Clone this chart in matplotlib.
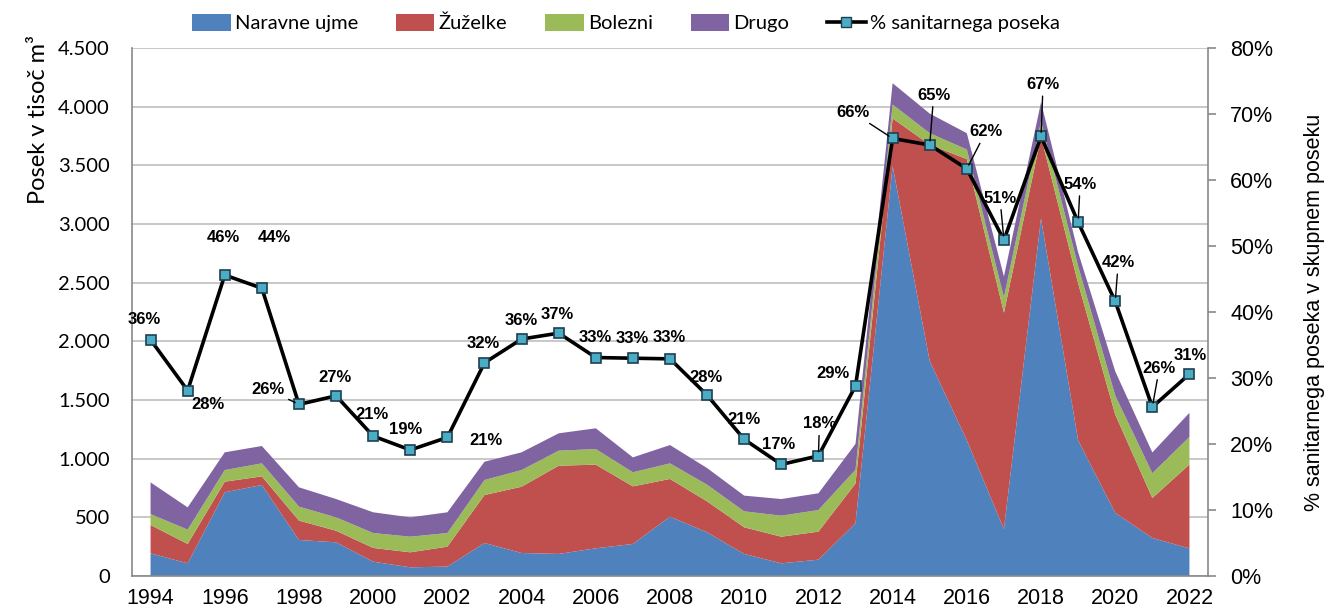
import matplotlib
matplotlib.use("Agg")
import matplotlib.pyplot as plt
from matplotlib.patches import Patch
from matplotlib.lines import Line2D
from matplotlib.ticker import FuncFormatter, MultipleLocator

years = list(range(1994, 2023))
naravne_ujme = [193, 108, 713, 776, 307, 287, 122, 74, 80, 281, 196, 188, 236, 273, 506,
                372, 188, 108, 139, 450, 3494, 1832, 1156, 400, 3047, 1156, 538, 324, 235]
zuzelke = [242, 165, 91, 73, 165, 99, 117, 128, 170, 409, 565, 752, 713, 491, 321,
           264, 227, 227, 239, 338, 406, 1844, 2397, 1844, 697, 1338, 838, 341, 715]
bolezni = [93, 122, 99, 111, 119, 114, 127, 133, 116, 128, 142, 128, 133, 120, 133,
           142, 136, 179, 184, 118, 118, 98, 82, 132, 132, 147, 162, 211, 235]
drugo = [270, 190, 151, 148, 165, 156, 177, 165, 177, 156, 151, 148, 177, 127, 156,
         142, 134, 142, 143, 220, 182, 167, 139, 177, 162, 118, 206, 177, 206]
pct_sanitarni = [35.8, 28.1, 45.6, 43.6, 26.0, 27.3, 21.2, 19.1, 21.0, 32.3, 35.9, 36.8, 33.1,
                 33.0, 32.9, 27.4, 20.7, 16.9, 18.2, 28.8, 66.3, 65.3, 61.7, 50.9, 66.6,
                 53.6, 41.6, 25.6, 30.6]
pct_labels = ["36%", "28%", "46%", "44%", "26%", "27%", "21%", "19%", "21%", "32%", "36%",
              "37%", "33%", "33%", "33%", "28%", "21%", "17%", "18%", "29%", "66%", "65%",
              "62%", "51%", "67%", "54%", "42%", "26%", "31%"]
series_names = ["Naravne ujme", "Žuželke", "Bolezni", "Drugo"]
line_name = "% sanitarnega poseka"

colors = ["#4F81BD", "#C0504D", "#9BBB59", "#8064A2"]

# label offsets in pixels (dx, dy up) and whether a leader line is drawn
label_offsets = [(-6, 20), (20, -14), (-1, 38), (13, 51), (-31, 15), (-1, 18), (-1, 22),
                 (-5, 20), (39, -3), (-1, 19), (0, 19), (-1, 19), (-1, 20), (-1, 20),
                 (-1, 21), (-1, 18), (0, 20), (-3, 20), (1, 32), (-23, 12), (-40, 26),
                 (4, 50), (19, 37), (-4, 42), (2, 52), (2, 38), (3, 39), (7, 39), (1, 19)]
leaders = [False, False, False, False, True, False, False, False, False, False, False,
           False, False, False, False, False, False, False, True, False, True, True, True,
           True, True, True, True, True, False]

fig = plt.figure(figsize=(13.29, 6.14), dpi=100)
ax = fig.add_axes([132 / 1329, 1 - 576 / 614, (1208 - 132) / 1329, (576 - 48) / 614])
ax.stackplot(years, naravne_ujme, zuzelke, bolezni, drugo, colors=colors, linewidth=0)
ax.set_xlim(1993.5, 2022.5)
ax.set_ylim(0, 4500)
ax.yaxis.set_major_locator(MultipleLocator(500))
ax.yaxis.set_major_formatter(FuncFormatter(lambda v, p: f"{int(v):,}".replace(",", ".")))
ax.set_xticks(list(range(1994, 2023, 2)))
ax.grid(axis="y", color="#BFBFBF", linewidth=1.2)
ax.set_axisbelow(True)
for s in ["top", "right"]:
    ax.spines[s].set_visible(False)
for s in ["left", "bottom"]:
    ax.spines[s].set_color("#898989")
    ax.spines[s].set_linewidth(1.2)
ax.tick_params(axis="both", length=0)
ax.tick_params(axis="x", labelsize=15.5, pad=9)
for lbl in ax.get_xticklabels():
    lbl.set_fontfamily("Liberation Sans")
ax.tick_params(axis="y", labelsize=14.5, pad=16)
for lbl in ax.get_yticklabels():
    lbl.set_fontfamily("Lato")
ax.set_ylabel("Posek v tisoč m³", fontsize=17, fontfamily="Lato")
ax.yaxis.set_label_coords(-0.077, 0.865)

ax2 = ax.twinx()
ax2.set_ylim(0, 80)
ax2.yaxis.set_major_locator(MultipleLocator(10))
ax2.yaxis.set_major_formatter(FuncFormatter(lambda v, p: f"{int(round(v))}%"))
for s in ["top", "left", "bottom"]:
    ax2.spines[s].set_visible(False)
ax2.spines["right"].set_color("#898989")
ax2.spines["right"].set_linewidth(1.2)
ax2.tick_params(axis="y", direction="out", length=6, width=1.2, color="#898989",
                labelsize=15.5, pad=10)
for lbl in ax2.get_yticklabels():
    lbl.set_fontfamily("Liberation Sans")
ax2.set_ylabel("% sanitarnega poseka v skupnem poseku", fontsize=15.5,
               fontfamily="Liberation Sans", labelpad=22)
ax2.plot(years, pct_sanitarni, color="black", linewidth=2.6, marker="s", markersize=7,
         markerfacecolor="#4BACC6", markeredgecolor="#1F3F4F", markeredgewidth=1.2, zorder=5)

for x, y, lab, (dx, dy), ld in zip(years, pct_sanitarni, pct_labels, label_offsets, leaders):
    kw = {}
    if ld:
        kw["arrowprops"] = dict(arrowstyle="-", color="black", lw=1.0, shrinkA=1, shrinkB=3)
    ax2.annotate(lab, xy=(x, y), xytext=(dx, dy), textcoords="offset pixels",
                 ha="center", va="center", fontsize=12, fontweight="bold",
                 fontfamily="Liberation Sans", zorder=6, **kw)

handles = [Patch(facecolor=c, edgecolor="none") for c in colors]
handles.append(Line2D([0], [0], color="black", linewidth=2.6, marker="s", markersize=7,
                      markerfacecolor="#4BACC6", markeredgecolor="#1F3F4F"))
fig.legend(handles, series_names + [line_name], loc="center", ncol=5,
           bbox_to_anchor=(0.471, 0.962), frameon=False,
           prop={"family": "Lato", "size": 14.5}, handlelength=1.9, handleheight=0.9,
           handletextpad=0.2, columnspacing=1.9)

fig.savefig("out.png", dpi=100)
